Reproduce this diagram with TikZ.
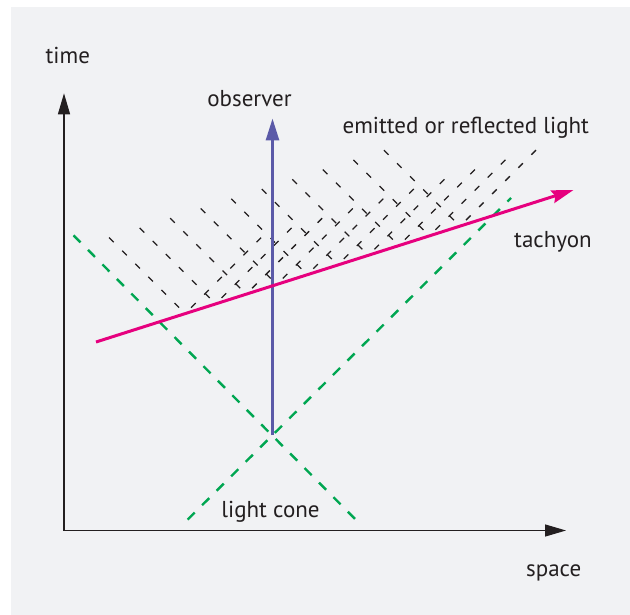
\documentclass[tikz,border=0pt]{standalone}
\usepackage{fontspec}
\setmainfont{PT Sans}
\usetikzlibrary{arrows.meta,calc}
\definecolor{bg}{HTML}{F1F2F4}
\definecolor{axiscol}{HTML}{231F20}
\definecolor{obscol}{HTML}{5B5AA8}
\definecolor{tachcol}{HTML}{E6007E}
\definecolor{conecol}{HTML}{00A651}
\tikzset{
  lbl/.style={inner sep=0pt, anchor=base, text=axiscol, font=\fontsize{23}{27}\selectfont},
  axisline/.style={draw=axiscol, line width=1.3pt, -{Triangle[length=21pt,width=12pt]}},
  obsline/.style={draw=obscol, line width=2.8pt, -{Triangle[length=22pt,width=13pt]}},
  tachline/.style={draw=tachcol, line width=3pt, -{Stealth[length=22pt,width=13pt,inset=3pt]}},
  coneline/.style={draw=conecol, line width=2.4pt, dash pattern=on 10pt off 10.5pt},
  ray/.style={draw=axiscol, line width=1.25pt, dash pattern=on 6.5pt off 12pt}
}
\begin{document}
\begin{tikzpicture}[x=1pt,y=-1pt]
\useasboundingbox (0,0) rectangle (630,615);
\fill[white] (0,0) rectangle (630,615);
\fill[bg] (11,7) rectangle (630,615);
% coordinates
\coordinate (O) at (64,530.5);
\coordinate (ty) at (64,93.3);
\coordinate (tx) at (566,530.5);
\coordinate (tA) at (96,342);
\coordinate (tB) at (573.5,190);
\coordinate (oA) at (272.5,435);
\coordinate (oB) at (272.5,118.5);
\coordinate (g1a) at (73.5,235.3);
\coordinate (g1b) at (359.6,523.5);
\coordinate (g2a) at (187.6,519.6);
\coordinate (g2b) at (511,198);
% light rays
\foreach \i in {0,...,9}{
  \coordinate (p\i) at ($(tA)!{0.1866+0.06397*\i}!(tB)$);
  \coordinate (l\i) at ($(p\i)+(-76,-76)$);
  \coordinate (r\i) at ($(p\i)+(76,-76)$);
  \draw[ray] (l\i) -- (p\i);
  \draw[ray] (r\i) -- (p\i);
}
% light cone
\draw[coneline] (g1a) -- (g1b);
\draw[coneline] (g2a) -- (g2b);
% axes
\draw[axisline] (O) -- (ty);
\draw[axisline] (O) -- (tx);
% observer
\draw[obsline] (oA) -- (oB);
% tachyon
\draw[tachline] (tA) -- (tB);
% labels
\node[lbl] (time) at (67.8,64) {time};
\node[lbl] (space) at (553.7,576) {space};
\node[lbl] (observer) at (249.5,106.7) {observer};
\node[lbl] (emitted) at (465.8,133.3) {emitted or reflected light};
\node[lbl] (tachyon) at (553,247.5) {tachyon};
\node[lbl] (cone) at (270.5,517.7) {light cone};
\end{tikzpicture}
\end{document}
